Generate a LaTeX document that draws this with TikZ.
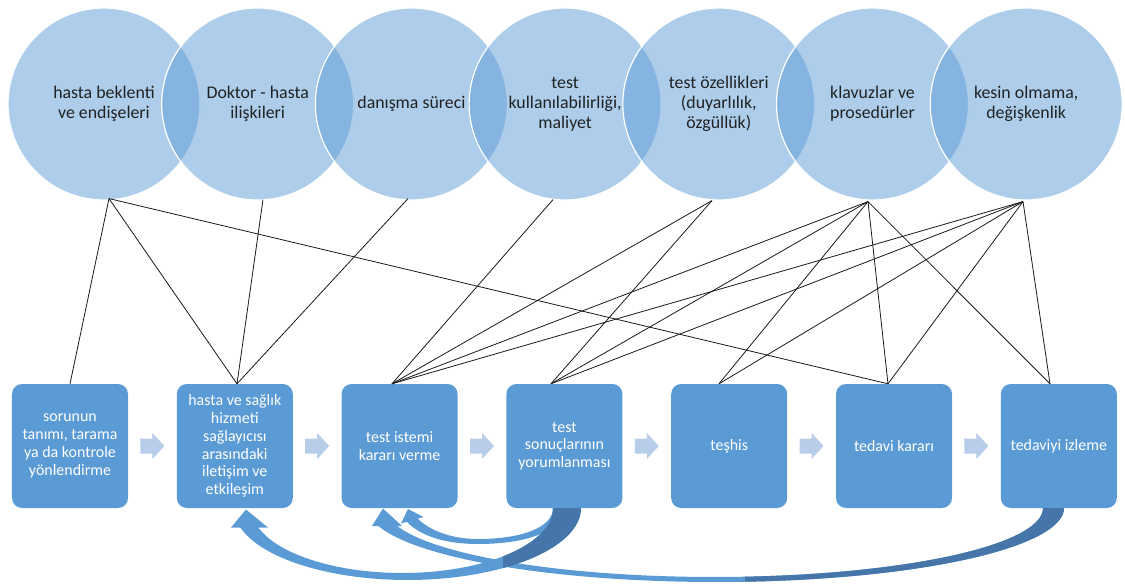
\documentclass[tikz,border=0pt]{standalone}
\usepackage{fontspec}
\setmainfont{Carlito}
\usetikzlibrary{calc}
\definecolor{accent}{HTML}{5B9BD5}
\definecolor{accentdark}{HTML}{4676A9}
\definecolor{chev}{HTML}{B7CDEA}
\definecolor{txt}{HTML}{222222}
\newcommand\alphashaft{plot[domain=0:165.9,samples=90] ({716+348*cos(\x)},{508+74*sin(\x)}) -- plot[domain=165.74:0,samples=90] ({714.4+328.6*cos(\x)},{508+69*sin(\x)}) -- cycle}
\newcommand\betashaft{plot[domain=0:164.7,samples=70] ({407.4+173.6*cos(\x)},{508+72*sin(\x)}) -- plot[domain=163.0:0,samples=70] ({402.2+150.8*cos(\x)},{508+65*sin(\x)}) -- cycle}
\begin{document}
\begin{tikzpicture}[x=1bp,y=-1bp,
  venn/.style={circle, minimum size=192bp, inner sep=0pt, fill=accent, fill opacity=0.5, text opacity=1, draw=white, draw opacity=1, line width=1.2bp, align=center, text=txt, font=\fontsize{17.9}{20.1}\selectfont},
  stage/.style={rectangle, rounded corners=10bp, minimum width=116bp, minimum height=124bp, fill=accent, draw=none, text=white, align=center, inner sep=2bp, font=\fontsize{16}{17.8}\selectfont},
  conn/.style={draw=black!90, line width=0.8bp},
  chevr/.style={fill=chev, draw=none},
  loopc/.style={fill=accent, draw=none},
  loopd/.style={fill=accentdark, draw=none}]
\useasboundingbox (0,0) rectangle (1125,585);

% Venn circles
\node[venn] (c1) at (104,104) {hasta beklenti\\ve endişeleri};
\node[venn] (c2) at (257.7,104) {Doktor - hasta\\ilişkileri};
\node[venn] (c3) at (411.4,104) {danışma süreci};
\node[venn] (c4) at (565.1,104) {test\\kullanılabilirliği,\\maliyet};
\node[venn] (c5) at (718.8,104) {test özellikleri\\(duyarlılık,\\özgüllük)};
\node[venn] (c6) at (872.5,104) {klavuzlar ve\\prosedürler};
\node[venn] (c7) at (1026.2,104) {kesin olmama,\\değişkenlik};

% Stage boxes
\node[stage] (b1) at (70,446) {sorunun\\tanımı, tarama\\ya da kontrole\\yönlendirme};
\node[stage] (b2) at (234.8,446) {hasta ve sağlık\\hizmeti\\sağlayıcısı\\arasındaki\\iletişim ve\\etkileşim};
\node[stage] (b3) at (399.6,446) {test istemi\\kararı verme};
\node[stage] (b4) at (564.4,446) {test\\sonuçlarının\\yorumlanması};
\node[stage] (b5) at (729.2,446) {teşhis};
\node[stage] (b6) at (894,446) {tedavi kararı};
\node[stage] (b7) at (1058.8,446) {tedaviyi izleme};

% connector end points
\coordinate (a1) at ($(c1.south)+(5,-2)$);
\coordinate (a2) at ($(c2.south)+(5.3,-1)$);
\coordinate (a3) at ($(c3.south)+(-3.4,-2)$);
\coordinate (a4) at ($(c4.south)+(-12.1,-1)$);
\coordinate (a5) at ($(c5.south)+(-6.8,0)$);
\coordinate (a6) at ($(c6.south)+(-4.5,1)$);
\coordinate (a7) at ($(c7.south)+(-3.2,1)$);
\coordinate (t1) at ($(b1.north)+(0,0)$);
\coordinate (t2) at ($(b2.north)+(2.2,0)$);
\coordinate (t3) at ($(b3.north)+(-7.6,0)$);
\coordinate (t4) at ($(b4.north)+(-13.4,0)$);
\coordinate (t5) at ($(b5.north)+(-10.2,0)$);
\coordinate (t6) at ($(b6.north)+(-6,0)$);
\coordinate (t7) at ($(b7.north)+(-8.8,0)$);

% connectors
\draw[conn] (a1) -- (t1);
\draw[conn] (a1) -- (t2);
\draw[conn] (a1) -- (t6);
\draw[conn] (a2) -- (t2);
\draw[conn] (a3) -- (t2);
\draw[conn] (a4) -- (t3);
\draw[conn] (a5) -- (t3);
\draw[conn] (a5) -- (t4);
\foreach \t in {t3,t4,t5,t6,t7} {
  \draw[conn] (a6) -- (\t);
  \draw[conn] (a7) -- (\t);
}

% small arrows between boxes
\foreach \i/\j in {1/2,2/3,3/4,4/5,5/6,6/7} {
  \coordinate (m\i) at ($(b\i.east)!0.5!(b\j.west)$);
  \fill[chevr] ($(m\i)+(-12,-7.5)$) -- ($(m\i)+(0,-7.5)$) -- ($(m\i)+(0,-13)$) -- ($(m\i)+(12,0)$) -- ($(m\i)+(0,13)$) -- ($(m\i)+(0,7.5)$) -- ($(m\i)+(-12,7.5)$) -- cycle;
}

% feedback arrow: b4 -> b3 (small)
\fill[loopc] (563,508) .. controls (563,532) and (525,544) .. (478,544) .. controls (445,544) and (420,536) .. (406,521) -- (417,518) .. controls (430,531) and (452,539) .. (478,539) .. controls (520,539) and (553,528) .. (553,508) -- cycle;
\fill[loopc] (401,523.5) -- (408,509) -- (423.5,517) -- cycle;

% feedback arrow: b7 -> b3
\fill[loopc] \alphashaft;
\begin{scope}
  \clip (745,500) rectangle (1100,600);
  \fill[loopd] \alphashaft;
\end{scope}
\fill[loopc] (372,526) -- (383,508.5) -- (402,526) -- cycle;

% feedback arrow: b4 -> b2
\fill[loopc] \betashaft;
\begin{scope}
  \clip (503,500) rectangle (600,600);
  \fill[loopd] \betashaft;
\end{scope}
\fill[loopc] (231,527.5) -- (246,509.5) -- (268,527.5) -- cycle;
\end{tikzpicture}
\end{document}
